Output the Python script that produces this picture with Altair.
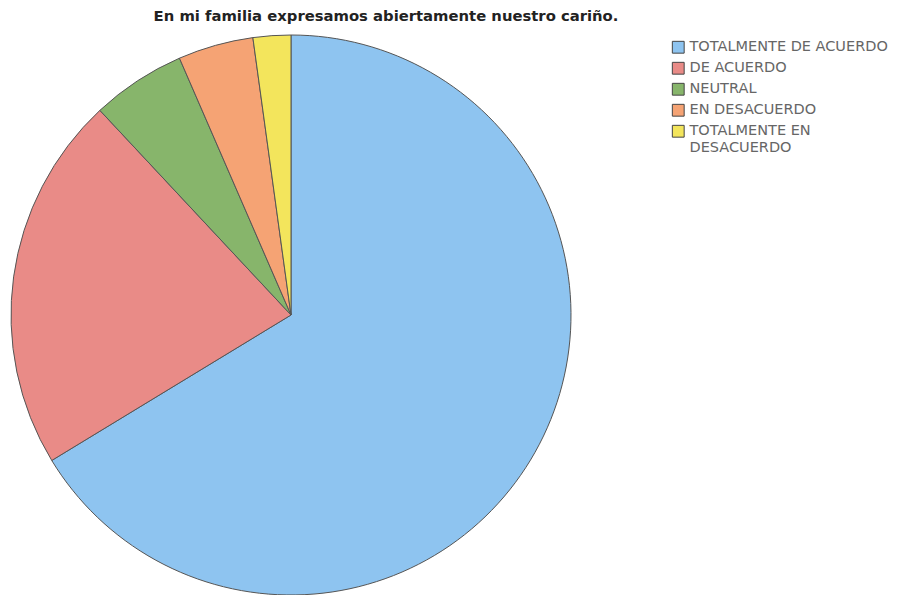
import altair as alt
import pandas as pd

categories = ["TOTALMENTE DE ACUERDO", "DE ACUERDO", "NEUTRAL", "EN DESACUERDO", "TOTALMENTE EN DESACUERDO"]
counts = [61, 20, 5, 4, 2]
colors = ["#8EC4F0", "#E98B87", "#87B56B", "#F5A374", "#F3E55C"]
title_text = "En mi familia expresamos abiertamente nuestro cariño."

df = pd.DataFrame({"cat": categories, "n": counts, "ord": list(range(len(categories)))})

pie = alt.Chart(df).mark_arc(radius=280, stroke="#555555", strokeWidth=1).encode(
    theta=alt.Theta("n:Q", stack=True),
    order=alt.Order("ord:Q"),
    x=alt.value(283),
    y=alt.value(307),
    color=alt.Color(
        "cat:N",
        sort=categories,
        scale=alt.Scale(domain=categories, range=colors),
        legend=alt.Legend(
            title=None,
            orient="none",
            legendX=663,
            legendY=32,
            symbolType="square",
            symbolSize=140,
            symbolStrokeColor="#444444",
            symbolStrokeWidth=1,
            labelFont="DejaVu Sans",
            labelFontSize=14.5,
            labelColor="#666666",
            labelLimit=300,
            labelOffset=4,
            rowPadding=4,
            labelExpr="datum.label == 'TOTALMENTE EN DESACUERDO' ? ['TOTALMENTE EN', 'DESACUERDO'] : datum.label",
        ),
    ),
)

title = alt.Chart(pd.DataFrame({"t": [title_text]})).mark_text(
    font="DejaVu Sans", fontSize=14.8, fontWeight="bold", color="#222222", baseline="alphabetic"
).encode(text="t:N", x=alt.value(378), y=alt.value(13))

chart = alt.layer(pie, title).properties(
    width=888, height=587, autosize="none", padding=0
).configure_view(stroke=None)

chart.save("out.html", embed_options={"renderer": "svg", "actions": False})
